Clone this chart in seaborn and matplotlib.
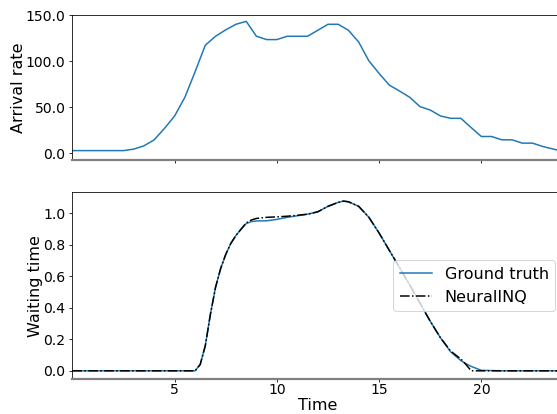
import matplotlib
matplotlib.use("Agg")
import matplotlib.pyplot as plt
import numpy as np
import pandas as pd
import seaborn as sns

# Hourly profile of arrivals (half-hour resolution)
arrival_time = [0.0, 0.5, 1.0, 1.5, 2.0, 2.5, 3.0, 3.5, 4.0, 4.5, 5.0, 5.5,
                6.0, 6.5, 7.0, 7.5, 8.0, 8.5, 9.0, 9.5, 10.0, 10.5, 11.0, 11.5,
                12.0, 12.5, 13.0, 13.5, 14.0, 14.5, 15.0, 15.5, 16.0, 16.5, 17.0, 17.5,
                18.0, 18.5, 19.0, 19.5, 20.0, 20.5, 21.0, 21.5, 22.0, 22.5, 23.0, 23.5, 24.0]
arrival_rate = [3.0, 3.0, 3.0, 3.0, 3.0, 3.0, 4.6, 8.2, 14.7, 27.0, 40.6, 60.8,
                88.5, 117.3, 127.0, 134.0, 140.0, 143.2, 127.0, 123.4, 123.4, 127.0, 127.0, 127.0,
                133.5, 140.0, 140.0, 133.5, 120.8, 100.3, 86.7, 74.0, 67.6, 60.8, 50.7, 47.0,
                40.6, 38.0, 38.0, 28.0, 18.3, 18.3, 14.7, 14.7, 11.1, 11.1, 7.5, 4.8, 2.0]

# Waiting time: simulated ground truth vs. NeuralINQ prediction
wait_time = [0.0, 1.0, 2.0, 3.0, 4.0, 5.0, 6.0, 6.25, 6.5, 6.75, 7.0, 7.25, 7.5, 7.75,
             8.0, 8.25, 8.5, 8.75, 9.0, 9.5, 10.0, 10.5, 11.0, 11.5, 12.0, 12.5,
             13.0, 13.25, 13.5, 14.0, 14.5, 15.0, 15.5, 16.0, 16.5, 17.0, 17.5,
             18.0, 18.5, 19.0, 19.25, 19.5, 20.0, 21.0, 22.0, 23.0, 24.0]
wait_truth = [0.0, 0.0, 0.0, 0.0, 0.0, 0.0, 0.0, 0.04, 0.16, 0.36, 0.53, 0.65, 0.74, 0.81,
              0.86, 0.90, 0.935, 0.948, 0.952, 0.953, 0.962, 0.975, 0.985, 0.995, 1.01, 1.045,
              1.07, 1.078, 1.074, 1.045, 0.975, 0.875, 0.765, 0.655, 0.545, 0.43, 0.315,
              0.21, 0.12, 0.065, 0.045, 0.028, 0.003, 0.0, 0.0, 0.0, 0.0]
wait_neural = [0.0, 0.0, 0.0, 0.0, 0.0, 0.0, 0.0, 0.04, 0.16, 0.36, 0.53, 0.65, 0.74, 0.81,
               0.86, 0.90, 0.94, 0.958, 0.968, 0.975, 0.978, 0.982, 0.988, 0.995, 1.01, 1.045,
               1.07, 1.078, 1.074, 1.045, 0.975, 0.875, 0.765, 0.655, 0.545, 0.43, 0.315,
               0.21, 0.125, 0.075, 0.04, 0.0, 0.0, 0.0, 0.0, 0.0, 0.0]

arrivals = pd.DataFrame({"Time": arrival_time, "Arrival rate": arrival_rate})
waits = pd.DataFrame({"Time": wait_time, "truth": wait_truth, "neural": wait_neural})

plt.rcParams.update({
    "font.family": "DejaVu Sans",
    "xtick.labelsize": 14,
    "ytick.labelsize": 14,
    "axes.labelsize": 16,
    "legend.fontsize": 16,
})

dpi = 72
fig = plt.figure(figsize=(557 / dpi, 414 / dpi), dpi=dpi)
ax1 = fig.add_axes([0.130, 0.6135, 0.881, 0.351])
ax2 = fig.add_axes([0.130, 0.0838, 0.881, 0.4517], sharex=ax1)

sns.lineplot(data=arrivals, x="Time", y="Arrival rate", ax=ax1,
             color="#1f77b4", linewidth=1.5)
ax1.set_ylim(-7.2, 150.4)
ax1.set_yticks([0, 50, 100, 150])
ax1.yaxis.set_major_formatter(matplotlib.ticker.FormatStrFormatter("%.1f"))
ax1.set_xlabel("")
ax1.tick_params(axis="x", labelbottom=False, length=3)

sns.lineplot(data=waits, x="Time", y="truth", ax=ax2, color="#1f77b4",
             linewidth=1.5, label="Ground truth")
sns.lineplot(data=waits, x="Time", y="neural", ax=ax2, color="black",
             linewidth=1.5, linestyle="-.", label="NeuralINQ")
ax2.set_ylim(-0.054, 1.134)
ax2.set_yticks([0.0, 0.2, 0.4, 0.6, 0.8, 1.0])
ax2.yaxis.set_major_formatter(matplotlib.ticker.FormatStrFormatter("%.1f"))
ax2.set_xlim(0, 24)
ax2.set_xticks([5, 10, 15, 20])
ax2.tick_params(axis="x", length=3, pad=0.5)
ax2.set_xlabel("Time", labelpad=1)
ax2.set_ylabel("Waiting time")
ax2.legend(loc="center right")

for ax in (ax1, ax2):
    ax.spines["bottom"].set_color("#808080")
    ax.spines["bottom"].set_linewidth(2.2)
    ax.yaxis.labelpad = 0

fig.align_ylabels([ax1, ax2])
fig.savefig("out.png", dpi=dpi)
